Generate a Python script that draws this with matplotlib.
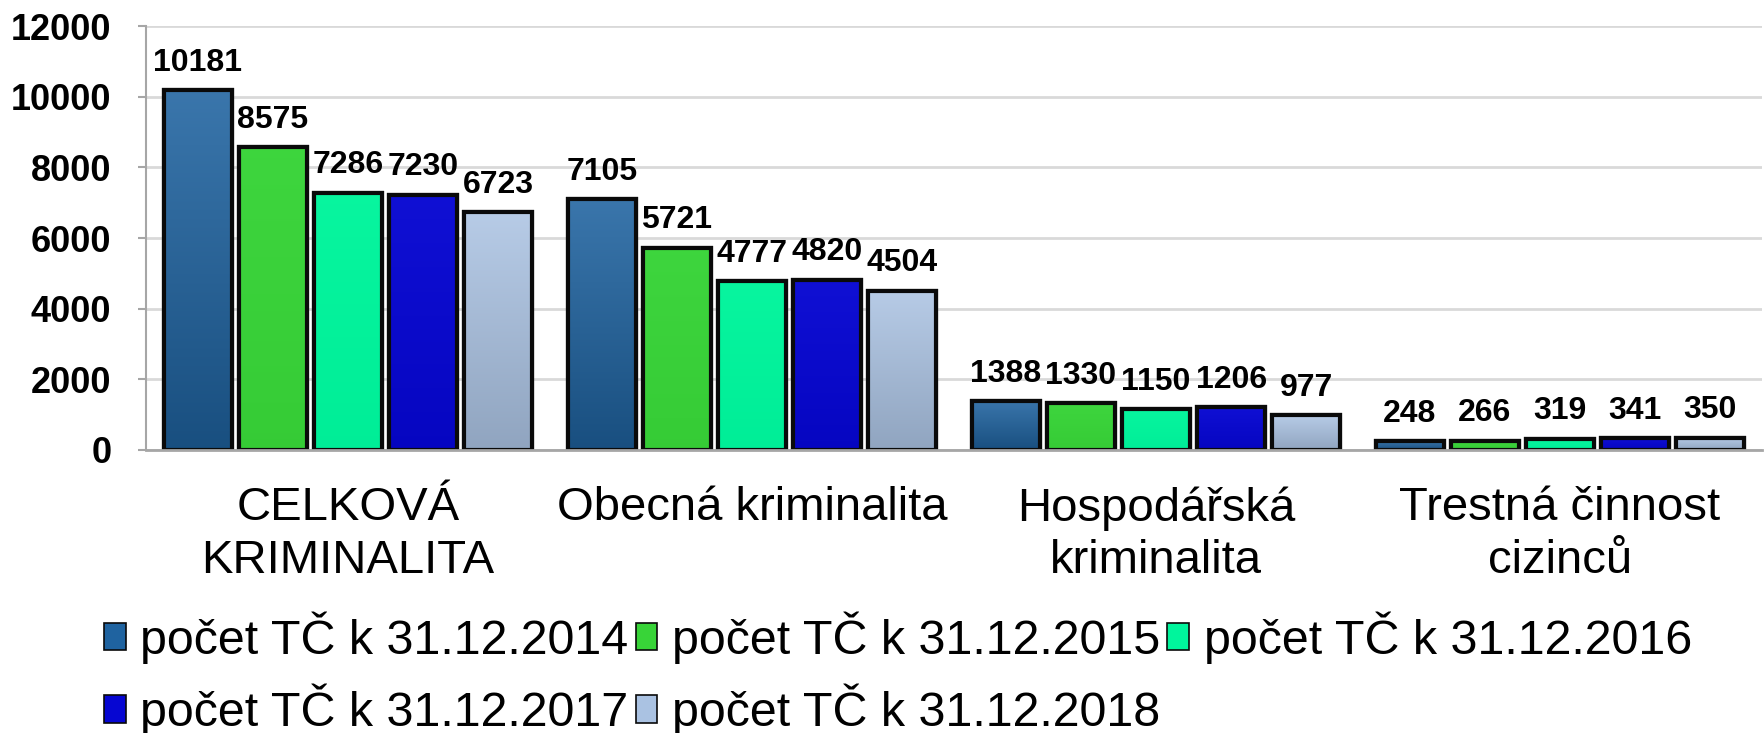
import matplotlib
matplotlib.use("Agg")
import matplotlib.pyplot as plt
import matplotlib.colors as mcolors
import numpy as np

categories = ["CELKOVÁ\nKRIMINALITA", "Obecná kriminalita", "Hospodářská\nkriminalita", "Trestná činnost\ncizinců"]
series_names = ["počet TČ k 31.12.2014", "počet TČ k 31.12.2015", "počet TČ k 31.12.2016",
                "počet TČ k 31.12.2017", "počet TČ k 31.12.2018"]
v2014 = [10181, 7105, 1388, 248]
v2015 = [8575, 5721, 1330, 266]
v2016 = [7286, 4777, 1150, 319]
v2017 = [7230, 4820, 1206, 341]
v2018 = [6723, 4504, 977, 350]
yticks = [0, 2000, 4000, 6000, 8000, 10000, 12000]

series = [v2014, v2015, v2016, v2017, v2018]
colors = ["#1f63a0", "#38d438", "#00f59c", "#0606d2", "#aac2e2"]
shading = [(0.12, -0.2), (0.03, -0.04), (0.03, -0.03), (0.04, -0.08), (0.15, -0.15)]

plt.rcParams['font.family'] = ['Liberation Sans', 'DejaVu Sans']

W, H = 1764, 733
fig = plt.figure(figsize=(W / 100, H / 100), dpi=100)
ax = fig.add_axes([146 / W, 1 - 450 / H, (1762 - 146) / W, (450 - 26) / H])


def shade(c, f):
    r, g, b = mcolors.to_rgb(c)
    if f >= 0:
        return (r + (1 - r) * f, g + (1 - g) * f, b + (1 - b) * f)
    return (r * (1 + f), g * (1 + f), b * (1 + f))


x = np.arange(len(categories))
pitch = 0.186
width = 0.168
for i, (vals, c, name, sh) in enumerate(zip(series, colors, series_names, shading)):
    pos = x + (i - 2) * pitch
    bars = ax.bar(pos, vals, width, color=c, edgecolor="#0a0a0a", linewidth=3,
                  label=name, zorder=3)
    top, bot = shade(c, sh[0]), shade(c, sh[1])
    grad = np.linspace(0, 1, 64)[:, None]
    img = np.array(top)[None, None, :] * (1 - grad[..., None]) + np.array(bot)[None, None, :] * grad[..., None]
    for b, v in zip(bars, vals):
        bx, bw = b.get_x(), b.get_width()
        im = ax.imshow(img, extent=(bx, bx + bw, 0, v), aspect="auto", zorder=3.5,
                       interpolation="bilinear")
        im.set_clip_path(b)
        ax.bar(bx + bw / 2, v, bw, fill=False, edgecolor="#0a0a0a", linewidth=3, zorder=3.6)
        ax.annotate(str(v), (bx + bw / 2, v), xytext=(0, 14),
                    textcoords="offset points", ha="center", va="baseline",
                    fontsize=23, fontweight="bold", color="black", zorder=5)

ax.set_xlim(-0.5, 3.5)
ax.set_ylim(0, 12000)
ax.set_yticks(yticks)
ax.set_yticklabels([str(t) for t in yticks], fontsize=26, fontweight="bold")
ax.set_xticks(x)
ax.set_xticklabels(categories, fontsize=34, linespacing=1.25)
ax.tick_params(axis="x", length=0, pad=26)
ax.tick_params(axis="y", length=6, width=1.5, color="#a6a6a6", pad=19)
ax.grid(axis="y", color="#d9d9d9", linewidth=2, zorder=0)
ax.set_axisbelow(True)
for s in ["top", "right"]:
    ax.spines[s].set_visible(False)
ax.spines["left"].set_color("#a6a6a6")
ax.spines["left"].set_linewidth(1.5)
ax.spines["bottom"].set_color("#a6a6a6")
ax.spines["bottom"].set_linewidth(2)
ax.spines["bottom"].set_zorder(4)

handles, labels = ax.get_legend_handles_labels()
order = [0, 3, 1, 4, 2]
leg = fig.legend([handles[k] for k in order], [labels[k] for k in order],
                 loc="upper left", bbox_to_anchor=(104 / W, 1 - 611 / H),
                 ncol=3, frameon=False, fontsize=34.8, handlelength=0.45, handleheight=0.5,
                 handletextpad=0.3, columnspacing=0.15, labelspacing=0.42, borderpad=0,
                 borderaxespad=0)
for h in leg.legend_handles:
    h.set_linewidth(1.2)

fig.savefig("out.png", dpi=100, facecolor="white")
